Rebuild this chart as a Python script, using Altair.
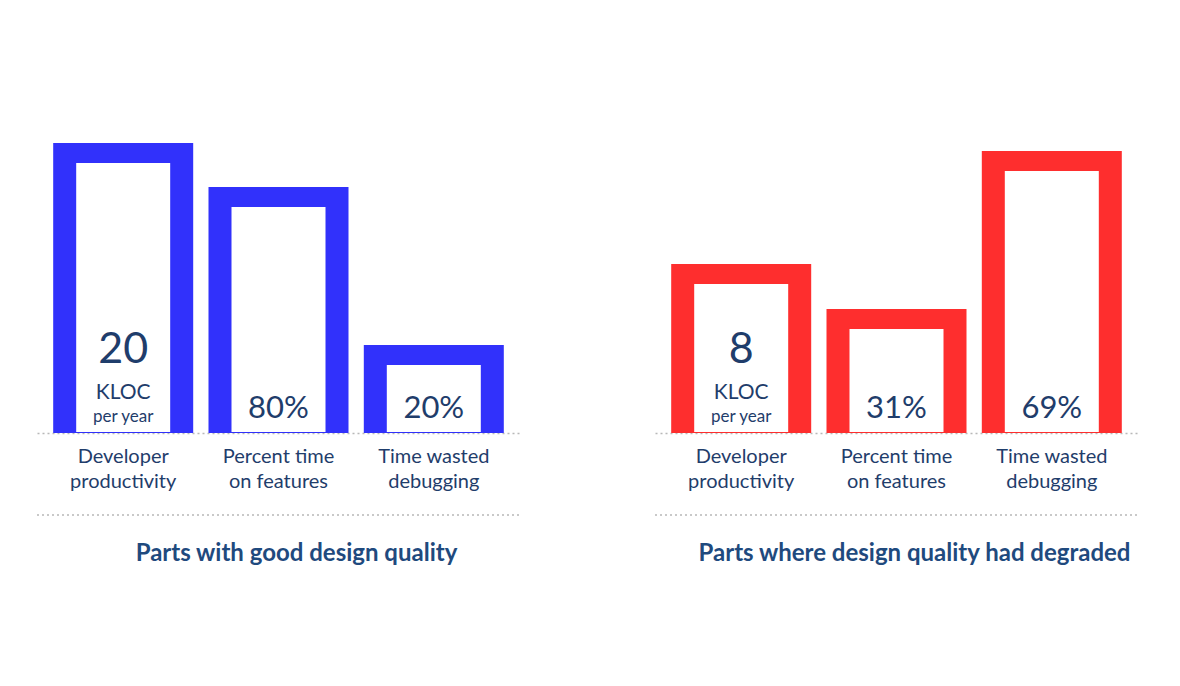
import altair as alt
import pandas as pd

categories = ["Developer\nproductivity", "Percent time\non features", "Time wasted\ndebugging"]
good_heights = [290, 246, 88]
bad_heights = [169, 124, 282]
good_main = ["20", "80%", "20%"]
bad_main = ["8", "31%", "69%"]
kinds = ["kloc", "pct", "pct"]
unit_line = ["KLOC", "", ""]
sub_line = ["per year", "", ""]
titles = ["Parts with good design quality", "Parts where design quality had degraded"]
colors = ["#3131fb", "#fe2e2e"]

TEXT = "#1f3d6b"
TITLE = "#1f4a7e"
FONT = "Lato"
W = 483
H = 300


def panel(heights, mains, color, title):
    df = pd.DataFrame({"cat": categories, "h": heights, "main": mains,
                       "kind": kinds, "unit": unit_line, "sub": sub_line})
    base = alt.Chart(df)
    x = alt.X("cat:N", sort=None,
              scale=alt.Scale(paddingInner=0.1, paddingOuter=0.105),
              axis=alt.Axis(title=None, ticks=False, labelAngle=0,
                            domain=True, domainDash=[2, 3], domainColor="#b8b8b8",
                            domainWidth=1.5,
                            labelFont=FONT, labelFontSize=20, labelColor=TEXT,
                            labelPadding=13, labelLineHeight=25,
                            labelExpr="split(datum.label, '\\n')"))
    y = alt.Y("h:Q", stack=None, scale=alt.Scale(domain=[0, H], nice=False), axis=None)

    outer = base.mark_bar(color=color, size=140).encode(x=x, y=y, y2=alt.datum(0))
    inner = base.mark_bar(color="white", size=94, yOffset=20, y2Offset=-1).encode(
        x=x, y=y, y2=alt.datum(0))

    kloc = base.transform_filter("datum.kind == 'kloc'")
    pct = base.transform_filter("datum.kind == 'pct'")
    big = kloc.mark_text(font=FONT, fontSize=43, color=TEXT, baseline="alphabetic", dy=-70).encode(
        x=x, y=alt.datum(0), text="main:N")
    unit = kloc.mark_text(font=FONT, fontSize=21, color=TEXT, baseline="alphabetic", dy=-34).encode(
        x=x, y=alt.datum(0), text="unit:N")
    sub = kloc.mark_text(font=FONT, fontSize=17, color=TEXT, baseline="alphabetic", dy=-11).encode(
        x=x, y=alt.datum(0), text="sub:N")
    pc = pct.mark_text(font=FONT, fontSize=31, color=TEXT, baseline="alphabetic", dy=-15).encode(
        x=x, y=alt.datum(0), text="main:N")

    rule = alt.Chart(pd.DataFrame({"r": [0]})).mark_rule(
        strokeDash=[2, 3], color="#b8b8b8", strokeWidth=1.5).encode(
        x=alt.value(0), x2=alt.value(W), y=alt.value(H + 82))

    return alt.layer(outer, inner, big, unit, sub, pc, rule).properties(
        width=W, height=H,
        title=alt.TitleParams(title, orient="bottom", font=FONT, fontSize=24,
                              fontWeight="bold", color=TITLE, offset=26, dx=18,
                              anchor="middle"))


left = panel(good_heights, good_main, colors[0], titles[0])
right = panel(bad_heights, bad_main, colors[1], titles[1])

chart = alt.hconcat(left, right, spacing=133).properties(
    padding={"left": 28, "top": 125, "right": 5, "bottom": 5}
).configure(background="white").configure_view(stroke=None)

chart.save("out.html", embed_options={"renderer": "svg", "actions": False})
